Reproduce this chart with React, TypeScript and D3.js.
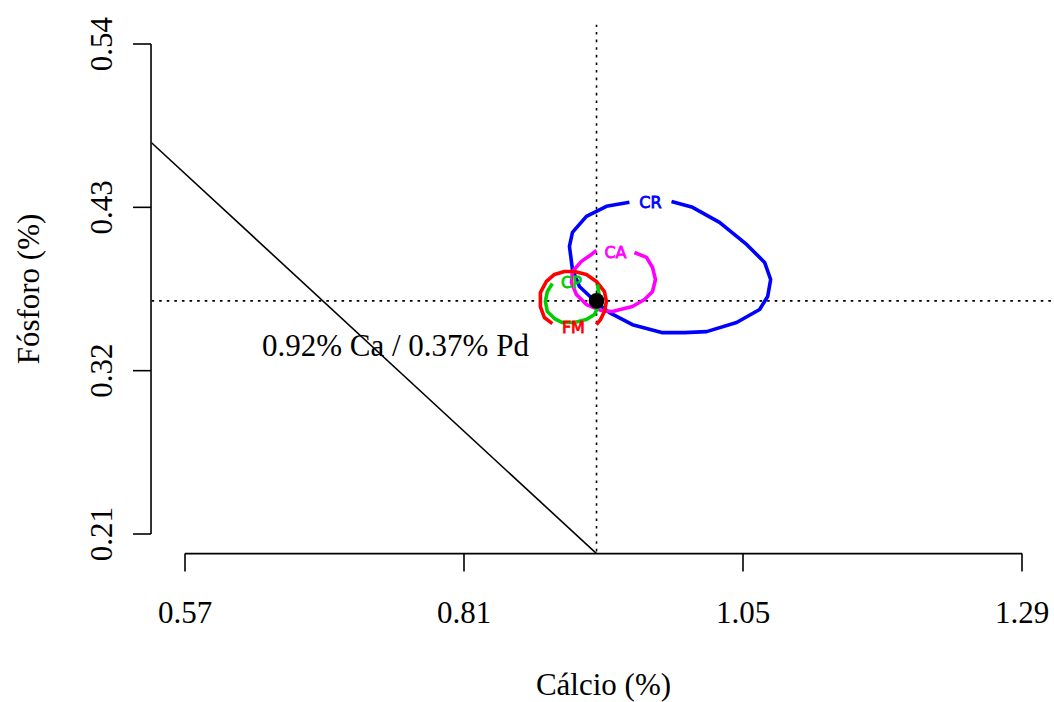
import React from "react";
import * as d3 from "d3";

type Pt = [number, number];

// axis ticks
const xTicks = [0.57, 0.81, 1.05, 1.29];
const yTicks = [0.21, 0.32, 0.43, 0.54];
const xLimits = [0.57, 1.29];
const yLimits = [0.21, 0.54];

// optimum point (Ca %, P %)
const optimum: Pt = [0.924, 0.367];
const optimumLabel = "0.92% Ca / 0.37% Pd";

// straight line (Ca, P)
const ratioLine: Pt[] = [
  [0.5412, 0.4735],
  [0.924, 0.1968],
];

// contour lines (open paths, gap where label sits)
const contourCR: Pt[] = [
  [0.9885, 0.434], [1.0066, 0.43], [1.0298, 0.4199], [1.0531, 0.405],
  [1.0686, 0.3929], [1.0738, 0.3814], [1.0712, 0.3699], [1.0643, 0.3612],
  [1.0445, 0.3524], [1.0187, 0.3463], [0.9997, 0.3456], [0.9808, 0.3456],
  [0.9549, 0.351], [0.9351, 0.3591], [0.9239, 0.3659], [0.9093, 0.3767],
  [0.9033, 0.3882], [0.9007, 0.4037], [0.9033, 0.4131], [0.9153, 0.4239],
  [0.9325, 0.4307], [0.9523, 0.4334],
];
const contourCA: Pt[] = [
  [0.9566, 0.3996], [0.967, 0.3963], [0.9722, 0.3895], [0.9747, 0.3814],
  [0.9722, 0.3733], [0.9653, 0.3679], [0.9549, 0.3632], [0.9377, 0.3598],
  [0.9282, 0.3605], [0.9153, 0.3645], [0.9067, 0.3713], [0.9024, 0.3794],
  [0.9033, 0.3868], [0.911, 0.3936], [0.9196, 0.3983], [0.9239, 0.401],
];
const contourFM: Pt[] = [
  [0.9239, 0.351], [0.9274, 0.3544], [0.9308, 0.3598], [0.9325, 0.3666],
  [0.9308, 0.3733], [0.9239, 0.3801], [0.9153, 0.3848], [0.905, 0.3868],
  [0.8964, 0.3868], [0.8878, 0.3848], [0.8809, 0.3801], [0.8757, 0.3726],
  [0.8757, 0.3632], [0.8791, 0.3558], [0.886, 0.3517],
];
const contourCP: Pt[] = [
  [0.9248, 0.378], [0.9265, 0.3699], [0.9256, 0.3632], [0.9222, 0.3578],
  [0.9153, 0.3544], [0.905, 0.3524], [0.8946, 0.3524], [0.8878, 0.3551],
  [0.8817, 0.3598], [0.88, 0.3666], [0.8817, 0.3733], [0.886, 0.3787],
];

const contourNames = ["CR", "CA", "FM", "CP"];
const contourColors = ["#0000FF", "#FF00FF", "#FF0000", "#00CD00"];
const contourPaths = [contourCR, contourCA, contourFM, contourCP];
const contourLabelPos: Pt[] = [
  [0.9704, 0.4334],
  [0.9403, 0.3996],
  [0.9041, 0.349],
  [0.9024, 0.3794],
];

const xTitle = "Cálcio (%)";
const yTitle = "Fósforo (%)";

export default function App() {
  const W = 1054;
  const H = 702;
  const ext = (l: number[]) => {
    const d = (l[1] - l[0]) * 0.04;
    return [l[0] - d, l[1] + d];
  };
  const xUsr = ext(xLimits);
  const yUsr = ext(yLimits);
  const pxPerX = (1022 - 185) / (xLimits[1] - xLimits[0]);
  const pxPerY = (534 - 44) / (yLimits[1] - yLimits[0]);
  const left = 185 - (xLimits[0] - xUsr[0]) * pxPerX;
  const right = 1022 + (xUsr[1] - xLimits[1]) * pxPerX;
  const top = 44 - (yUsr[1] - yLimits[1]) * pxPerY;
  const bottom = 534 + (yLimits[0] - yUsr[0]) * pxPerY;

  const x = d3.scaleLinear().domain(xUsr).range([left, right]);
  const y = d3.scaleLinear().domain(yUsr).range([bottom, top]);
  const line = d3
    .line<Pt>()
    .x((d) => x(d[0]))
    .y((d) => y(d[1]));

  const font = "'Liberation Serif', 'Times New Roman', serif";
  const fs = 31;
  const axisLeft = left - 0.5;
  const axisBottom = bottom;

  return (
    <svg
      width={W}
      height={H}
      style={{ position: "absolute", left: 0, top: 0, background: "#fff" }}
      fontFamily={font}
    >
      <defs>
        <clipPath id="plotclip">
          <rect x={left} y={top} width={right - left} height={bottom - top} />
        </clipPath>
      </defs>
      <rect width={W} height={H} fill="#fff" />

      <g clipPath="url(#plotclip)">
        {/* ratio line */}
        <path d={line(ratioLine) || ""} fill="none" stroke="#000" strokeWidth={1.6} />
        {/* dotted reference lines */}
        <line
          x1={left}
          x2={right}
          y1={y(optimum[1])}
          y2={y(optimum[1])}
          stroke="#000"
          strokeWidth={1.6}
          strokeDasharray="2.6 5"
        />
        <line
          x1={x(optimum[0])}
          x2={x(optimum[0])}
          y1={top}
          y2={bottom}
          stroke="#000"
          strokeWidth={1.6}
          strokeDasharray="2.6 5"
        />
        {/* contours */}
        {contourPaths.map((p, i) => (
          <path
            key={contourNames[i]}
            d={line(p) || ""}
            fill="none"
            stroke={contourColors[i]}
            strokeWidth={3.6}
            strokeLinejoin="round"
          />
        ))}
        {contourNames.map((n, i) => (
          <text
            key={"l" + n}
            x={x(contourLabelPos[i][0])}
            y={y(contourLabelPos[i][1])}
            fill={contourColors[i]}
            stroke={contourColors[i]}
            strokeWidth={0.8}
            fontFamily="'DejaVu Sans', Arial, sans-serif"
            fontSize={16}
            textAnchor="middle"
            dominantBaseline="central"
          >
            {n}
          </text>
        ))}
        {/* optimum point */}
        <circle cx={x(optimum[0])} cy={y(optimum[1])} r={7.8} fill="#000" />
      </g>

      {/* annotation */}
      <text x={262} y={356} fontSize={fs} fill="#000">
        {optimumLabel}
      </text>

      {/* x axis */}
      <line x1={x(xTicks[0])} x2={x(xTicks[xTicks.length - 1])} y1={axisBottom} y2={axisBottom} stroke="#000" strokeWidth={1.6} />
      {xTicks.map((t) => (
        <g key={"xt" + t}>
          <line x1={x(t)} x2={x(t)} y1={axisBottom} y2={axisBottom + 18} stroke="#000" strokeWidth={1.6} />
          <text x={x(t)} y={623} fontSize={fs} textAnchor="middle" fill="#000">
            {t.toFixed(2)}
          </text>
        </g>
      ))}

      {/* y axis */}
      <line x1={axisLeft} x2={axisLeft} y1={y(yTicks[0])} y2={y(yTicks[yTicks.length - 1])} stroke="#000" strokeWidth={1.6} />
      {yTicks.map((t) => (
        <g key={"yt" + t}>
          <line x1={axisLeft} x2={axisLeft - 18} y1={y(t)} y2={y(t)} stroke="#000" strokeWidth={1.6} />
          <text
            transform={`translate(112, ${y(t)}) rotate(-90)`}
            fontSize={fs}
            textAnchor="middle"
            fill="#000"
          >
            {t.toFixed(2)}
          </text>
        </g>
      ))}

      {/* axis titles */}
      <text x={(left + right) / 2} y={695} fontSize={fs} textAnchor="middle" fill="#000">
        {xTitle}
      </text>
      <text
        transform={`translate(39, ${(top + bottom) / 2}) rotate(-90)`}
        fontSize={fs}
        textAnchor="middle"
        fill="#000"
      >
        {yTitle}
      </text>
    </svg>
  );
}
